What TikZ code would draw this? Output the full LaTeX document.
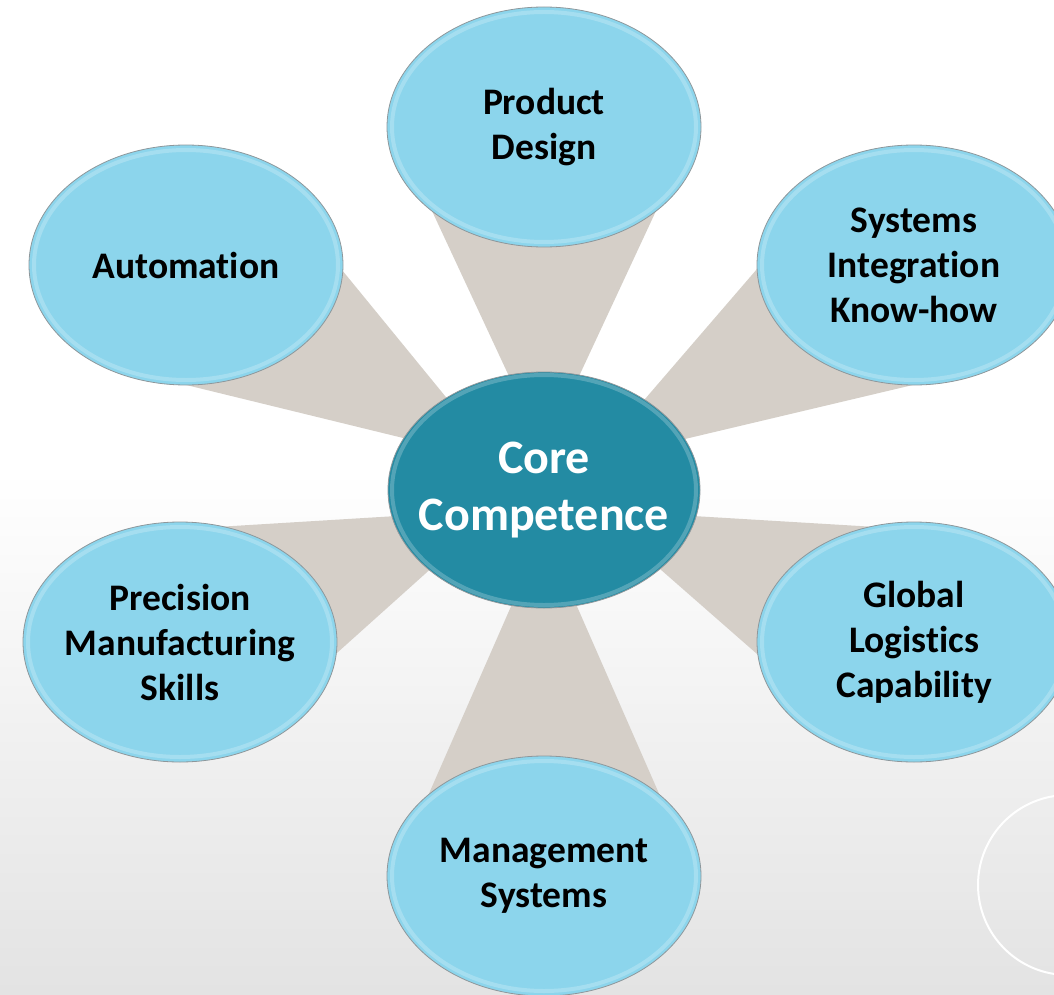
\documentclass[tikz,border=0pt]{standalone}
\usepackage{fontspec}
\setmainfont{Carlito}[Ligatures=NoCommon]
\usetikzlibrary{shapes.geometric,calc,backgrounds}

\definecolor{skyfill}{HTML}{8CD5EC}
\definecolor{corefill}{HTML}{238BA3}
\definecolor{spokegray}{HTML}{D5CFC8}
\definecolor{rimgray}{HTML}{8E979B}

\begin{document}
\begin{tikzpicture}[x=1pt,y=-1pt,
    bubble/.style={ellipse, draw=rimgray, line width=0.8pt, fill=skyfill,
      minimum width=314pt, minimum height=240pt, inner xsep=-60pt, inner ysep=-20pt,
      align=center, font=\fontsize{37.5}{45}\selectfont\bfseries,
      path picture={\draw[white,opacity=.22,line width=4pt]
        (path picture bounding box.center) ellipse (152pt and 115pt);}},
    hub/.style={bubble, fill=corefill, minimum width=312pt, minimum height=236pt,
      text=white, font=\fontsize{48}{57}\selectfont\bfseries},
    spoke/.style={fill=spokegray}]
  \useasboundingbox (0,0) rectangle (1054,995);

  \node[hub] (core) at (544,490) {Core\\Competence};
  \node[bubble] (design) at (544,127) {Product\\Design};
  \node[bubble] (automation) at (186,265) {Automation};
  \node[bubble] (systems) at (914,265) {Systems\\Integration\\Know-how};
  \node[bubble] (precision) at (180,642) {Precision\\Manufacturing\\Skills};
  \node[bubble] (logistics) at (914,642) {Global\\Logistics\\Capability};
  \node[bubble] (management) at (544,876) {Management\\Systems};

  \begin{scope}[on background layer]
    \fill[top color=white, bottom color=gray!22] (0,470) rectangle (1054,995);
    \draw[white, line width=2pt] (1068,885) circle (90pt);
    \foreach \o in {design,automation,systems,precision,logistics,management}
      \fill[spoke] let \p1=($(\o.center)-(core.center)$), \n1={atan2(\y1,\x1)},
          \n2={int(\n1+90)}, \n3={int(\n1-90)} in
        ($(core.center)!18pt!90:(\o.center)$)
        -- ($(\o.center)!.96!(\o.\n3)$)
        -- ($(\o.center)!.96!(\o.\n2)$)
        -- ($(core.center)!18pt!-90:(\o.center)$) -- cycle;
  \end{scope}
\end{tikzpicture}
\end{document}
